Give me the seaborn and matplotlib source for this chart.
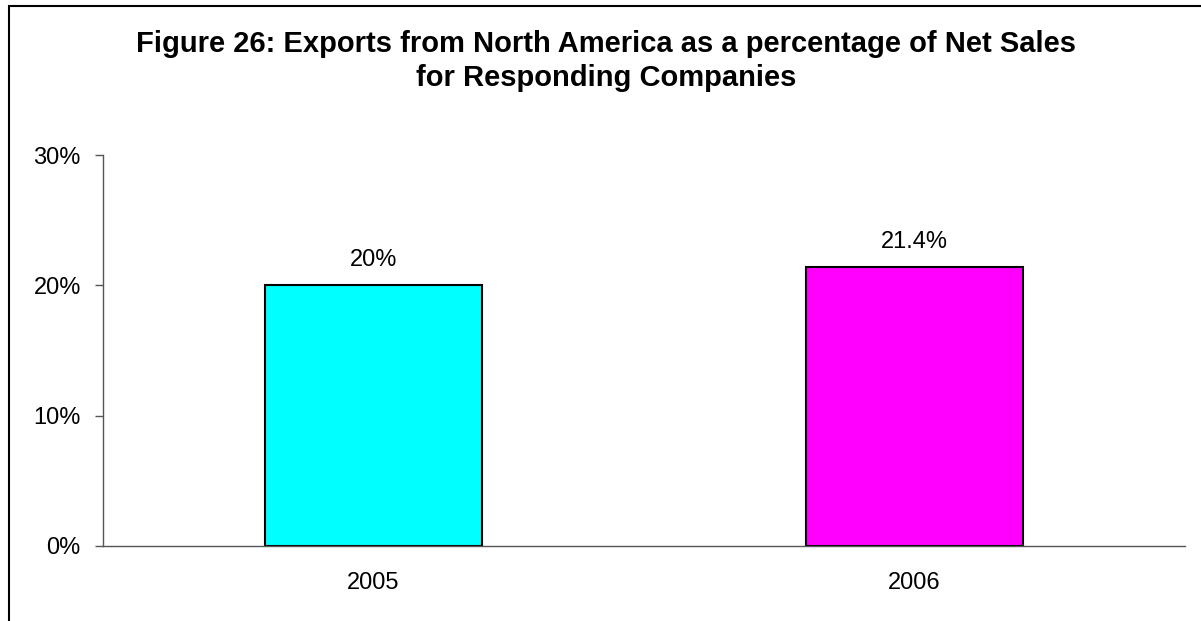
import matplotlib
matplotlib.use("Agg")
import matplotlib.pyplot as plt
from matplotlib.patches import Rectangle
from matplotlib.ticker import FixedLocator
import seaborn as sns
import pandas as pd

# Chart data
years = ["2005", "2006"]
export_share = [20.0, 21.4]          # percent of net sales
value_labels = ["20%", "21.4%"]
bar_colors = ["#00FFFF", "#FF00FF"]
y_ticks = [0, 10, 20, 30]
y_tick_labels = ["0%", "10%", "20%", "30%"]
title = ("Figure 26: Exports from North America as a percentage of Net Sales\n"
         "for Responding Companies")

sns.set_theme(style="white")
plt.rcParams["font.family"] = ["Liberation Sans", "DejaVu Sans"]

df = pd.DataFrame({"year": years, "share": export_share})

fig = plt.figure(figsize=(12.01, 6.21), dpi=100)
ax = fig.add_axes([103 / 1201, 1 - 546 / 621, (1185 - 103) / 1201, (546 - 155) / 621])

sns.barplot(data=df, x="year", y="share", hue="year", palette=bar_colors,
            order=years, hue_order=years, width=0.4, saturation=1,
            edgecolor="black", linewidth=1.5, legend=False, ax=ax)

ax.set_xlim(-0.5, len(years) - 0.5)
ax.set_ylim(0, 30)
ax.set_yticks(y_ticks)
ax.set_yticklabels(y_tick_labels, fontsize=17, color="black")
ax.set_xticks(range(len(years)))
ax.set_xticklabels(years, fontsize=17, color="black")
ax.xaxis.set_minor_locator(FixedLocator([i - 0.5 for i in range(len(years) + 1)]))
ax.tick_params(axis="x", which="major", length=0, pad=19)
ax.tick_params(axis="x", which="minor", direction="out", length=6,
               width=1, color="#555555")
ax.tick_params(axis="y", direction="out", length=6, width=1,
               color="#555555", pad=10, left=True)
ax.set_xlabel("")
ax.set_ylabel("")

for side in ["top", "right"]:
    ax.spines[side].set_visible(False)
for side in ["left", "bottom"]:
    ax.spines[side].set_color("#555555")
    ax.spines[side].set_linewidth(1)

for i, (v, lab) in enumerate(zip(export_share, value_labels)):
    ax.annotate(lab, (i, v), xytext=(0, 14), textcoords="offset points",
                ha="center", va="baseline", fontsize=17, color="black")

fig.text(606 / 1201, 1 - 86 / 621, title, ha="center", va="baseline",
         fontsize=21, fontweight="bold", linespacing=1.27, color="black")

# outer chart border
fig.add_artist(Rectangle((9 / 1201, -0.1), 1.2, 1.1 - 6 / 621,
                         transform=fig.transFigure, fill=False,
                         edgecolor="black", linewidth=1.5))

fig.savefig("out.png", dpi=100, facecolor="white")
